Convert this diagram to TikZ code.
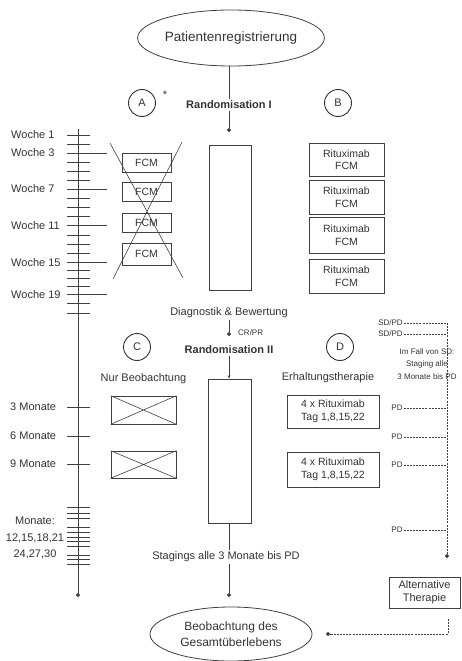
\documentclass[tikz,border=0pt]{standalone}
\usepackage{fontspec}
\setmainfont{Liberation Sans}
\usetikzlibrary{arrows.meta,shapes.geometric}
\begin{document}
\begin{tikzpicture}[x=1pt,y=-1pt,
  every node/.style={text=black!80},
  ln/.style={draw=black!75, line width=0.6pt},
  dotarr/.style={ln,-{Circle[length=4pt]}},
  dsh/.style={draw=black!75, line width=0.75pt, dash pattern=on 2pt off 1.1pt},
  lbl/.style={font=\fontsize{11}{12}\selectfont, inner sep=2pt},
  sml/.style={font=\fontsize{8}{10}\selectfont, inner sep=1pt},
  bx/.style={ln, rectangle, inner sep=0pt, align=center, font=\fontsize{10.5}{12.5}\selectfont},
  crossbx/.style={ln, rectangle, inner sep=0pt, minimum width=65pt},
  circ/.style={draw=black!80, line width=0.9pt, circle, minimum size=27pt, inner sep=0pt, font=\fontsize{11}{12}\selectfont},
  ell/.style={ln, line width=0.8pt, ellipse, inner sep=0pt, align=center}
]
\useasboundingbox (0,0) rectangle (461,661);

% ---------- top ----------
\node[ell, minimum width=162pt, minimum height=56pt, font=\fontsize{13.5}{15}\selectfont] (top) at (231,38) {Patientenregistrierung};
\node[lbl, font=\bfseries\fontsize{11}{12}\selectfont] (r1) at (229,105) {Randomisation I};
\coordinate (a1) at (229,132);
\draw[ln] (top.south -| r1) -- (r1.north);
\draw[dotarr] (r1.south) -- (a1);

\node[circ] (cA) at (142,103) {A};
\node[lbl, font=\fontsize{11}{12}\selectfont, inner sep=0pt] (star) at (165,95) {*};
\node[circ] (cB) at (338,103) {B};

% ---------- timeline ----------
\coordinate (tl0) at (78,129);
\coordinate (tl1) at (78,597);
\draw[dotarr] (tl0) -- (tl1);
\foreach \yy in {135,144,162,171,180,198.2,207.4,216.5,235,244.2,253.5,270.6,278.5,286.4,303.5,313}
  \draw[ln] (67,\yy) -- (90,\yy);
\foreach \yy in {153,189,225.7,262.7,294.3}
  \draw[ln] (67,\yy) -- (107,\yy);
\node[lbl, anchor=west, inner sep=0pt] (w1) at (11,135) {Woche 1};
\node[lbl, anchor=west, inner sep=0pt] (w3) at (11,153) {Woche 3};
\node[lbl, anchor=west, inner sep=0pt] (w7) at (11,189) {Woche 7};
\node[lbl, anchor=west, inner sep=0pt] (w11) at (11,225.7) {Woche 11};
\node[lbl, anchor=west, inner sep=0pt] (w15) at (11,262.7) {Woche 15};
\node[lbl, anchor=west, inner sep=0pt] (w19) at (11,294.3) {Woche 19};

\foreach \yy in {407,436,464,507,513,518,527,532,537,541,546,555,559,564}
  \draw[ln] (67,\yy) -- (90,\yy);
\node[lbl, anchor=west, inner sep=0pt] (m3) at (10,407) {3 Monate};
\node[lbl, anchor=west, inner sep=0pt] (m6) at (10,436) {6 Monate};
\node[lbl, anchor=west, inner sep=0pt] (m9) at (10,464) {9 Monate};
\node[lbl, align=center, inner sep=0pt, font=\fontsize{11}{16.5}\selectfont] (mr) at (35,538) {Monate:\\12,15,18,21\\24,27,30};

% ---------- arm A (crossed FCM) ----------
\node[bx, minimum width=49pt, minimum height=19pt] (f1) at (146.5,162.5) {FCM};
\node[bx, minimum width=49pt, minimum height=19pt] (f2) at (146.5,191.5) {FCM};
\node[bx, minimum width=49pt, minimum height=19pt] (f3) at (146.5,222.5) {FCM};
\node[bx, minimum width=49pt, minimum height=22pt] (f4) at (146.5,254) {FCM};
\coordinate (xa) at (110,143);
\coordinate (xb) at (183,278);
\coordinate (xc) at (182,142);
\coordinate (xd) at (113,279);
\draw[ln] (xa) -- (xb) (xc) -- (xd);

% ---------- middle column ----------
\node[ln, draw, rectangle, minimum width=42pt, minimum height=145pt] (rc1) at (230,217.5) {};
\node[lbl] (diag) at (229,313) {Diagnostik \& Bewertung};
\coordinate (a2) at (229,336);
\draw[dotarr] (diag.south) -- (a2);
\node[sml, anchor=west] (crpr) at (237,333) {CR/PR};
\node[lbl, font=\bfseries\fontsize{11}{12}\selectfont] (r2) at (229,350) {Randomisation II};
\node[ln, draw, rectangle, minimum width=43pt, minimum height=144pt] (rc2) at (229.5,451) {};
\draw[ln, -{Stealth[length=3.5pt]}] (r2.south) -- (r2.south |- rc2.north);
\node[lbl] (stg) at (226,557) {Stagings alle 3 Monate bis PD};
\coordinate (a3) at (229,597);
\draw[ln] (rc2.south -| a3) -- (stg.north -| a3);
\draw[dotarr] (stg.south -| a3) -- (a3);
\node[ell, minimum width=162pt, minimum height=54pt, font=\fontsize{12}{16}\selectfont] (bot) at (231,634) {Beobachtung des\\Gesamtüberlebens};

% ---------- arm B ----------
\node[bx, minimum width=75pt, minimum height=33pt] (b1) at (346.5,159.5) {Rituximab\\FCM};
\node[bx, minimum width=75pt, minimum height=34pt] (b2) at (346.5,197) {Rituximab\\FCM};
\node[bx, minimum width=75pt, minimum height=36pt] (b3) at (346.5,235) {Rituximab\\FCM};
\node[bx, minimum width=75pt, minimum height=34pt] (b4) at (346.5,276) {Rituximab\\FCM};

% ---------- arm C ----------
\node[circ] (cC) at (137,347) {C};
\node[lbl] (nb) at (143.5,379) {Nur Beobachtung};
\node[crossbx, minimum height=28pt] (o1) at (143.5,410) {};
\node[crossbx, minimum height=27pt] (o2) at (143.5,464.5) {};
\draw[ln] (o1.north west) -- (o1.south east) (o1.south west) -- (o1.north east);
\draw[ln] (o2.north west) -- (o2.south east) (o2.south west) -- (o2.north east);

% ---------- arm D ----------
\node[circ] (cD) at (340,347) {D};
\node[lbl] (eh) at (328,378) {Erhaltungstherapie};
\node[bx, minimum width=92pt, minimum height=33pt] (d1) at (333,411.5) {4 x Rituximab\\Tag 1,8,15,22};
\node[bx, minimum width=92pt, minimum height=35pt] (d2) at (333,469.5) {4 x Rituximab\\Tag 1,8,15,22};

% ---------- right dashed ----------
\coordinate (dv0) at (447,323);
\coordinate (dv1) at (447,558);
\draw[dsh, -{Circle[length=4pt]}] (dv0) -- (dv1);
\node[sml] (sp1) at (390.5,323) {SD/PD};
\node[sml] (sp2) at (390.5,334) {SD/PD};
\draw[dsh] (sp1.east) -- (sp1.east -| dv0);
\draw[dsh] (sp2.east) -- (sp2.east -| dv0);
\node[sml, align=center, font=\fontsize{8}{12.5}\selectfont] (imf) at (427,364) {Im Fall von SD:\\Staging alle\\3 Monate bis PD};
\node[sml] (pd1) at (397,408) {PD};
\node[sml] (pd2) at (397,437) {PD};
\node[sml] (pd3) at (397,465) {PD};
\node[sml] (pd4) at (397,530) {PD};
\foreach \p in {pd1,pd2,pd3,pd4}
  \draw[dsh] (\p.east) -- (\p.east -| dv0);

\node[bx, minimum width=71pt, minimum height=31pt, font=\fontsize{11}{13}\selectfont] (alt) at (424.5,592.5) {Alternative\\Therapie};
\coordinate (af) at (448,619);
\coordinate (ae) at (326,634);
\draw[dsh, -{Circle[length=4pt]}] (af) |- (ae);
\end{tikzpicture}
\end{document}
